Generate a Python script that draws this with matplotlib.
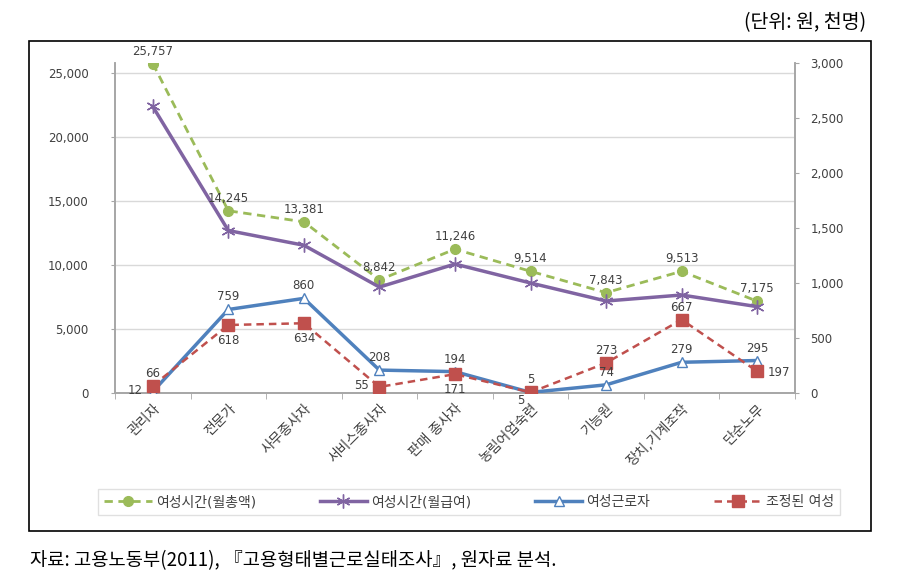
import matplotlib
matplotlib.use("Agg")
import matplotlib.pyplot as plt
from matplotlib.patches import Rectangle
import numpy as np

plt.rcParams['font.family'] = ['DejaVu Sans', 'Noto Sans CJK KR']

# 직업 대분류
categories = ['관리자', '전문가', '사무종사자', '서비스종사자', '판매 종사자',
              '농림어업숙련', '기능원', '장치,기계조작', '단순노무']

# 왼쪽 축 (원)
wage_total = [25757, 14245, 13381, 8842, 11246, 9514, 7843, 9513, 7175]
wage_salary = [22400, 12700, 11550, 8280, 10080, 8600, 7190, 7660, 6750]

# 오른쪽 축 (천명)
female_workers = [12, 759, 860, 208, 194, 5, 74, 279, 295]
adjusted_female = [66, 618, 634, 55, 171, 5, 273, 667, 197]

series_names = ['여성시간(월총액)', '여성시간(월급여)', '여성근로자', '조정된 여성']

TXT = '#404040'
GRID = '#D9D9D9'
AXC = '#A6A6A6'

fig = plt.figure(figsize=(9.09, 5.86), dpi=100)
ax = fig.add_axes([0.1265, 0.3294, 0.748, 0.5631])
ax2 = ax.twinx()

x = np.arange(len(categories))

l1, = ax.plot(x, wage_total, color='#9BBB59', lw=2, ls=(0, (3, 2)),
              marker='o', ms=7, mfc='#9BBB59', mec='#9BBB59', zorder=3)
l2, = ax.plot(x, wage_salary, color='#8064A2', lw=2.5,
              marker=(6, 2, 0), ms=10, mec='#8064A2', mew=1, zorder=3)
l3, = ax2.plot(x, female_workers, color='#4F81BD', lw=2.5,
               marker='^', ms=7, mfc='white', mec='#4F81BD', mew=1, zorder=3)
l4, = ax2.plot(x, adjusted_female, color='#C0504D', lw=1.8, ls=(0, (3, 2)),
               marker='s', ms=8, mfc='#C0504D', mec='#C0504D', zorder=4)

ax.set_xlim(-0.5, len(categories) - 0.5)
ax.set_ylim(0, 25800)
ax2.set_ylim(0, 3000)

ax.set_yticks(np.arange(0, 25001, 5000))
ax.set_yticklabels([f'{v:,}' for v in range(0, 25001, 5000)])
ax2.set_yticks(np.arange(0, 3001, 500))
ax2.set_yticklabels([f'{v:,}' for v in range(0, 3001, 500)])

ax.yaxis.grid(True, color=GRID, lw=1)
ax.set_axisbelow(True)

ax.set_xticks(x)
ax.set_xticklabels(categories, rotation=45, ha='right', rotation_mode='anchor',
                   fontsize=10, color=TXT)
ax.set_xticks(np.arange(-0.5, len(categories) + 0.5, 1), minor=True)
ax.tick_params(axis='x', which='major', length=0, pad=6)
ax.tick_params(axis='x', which='minor', length=4, color=AXC, direction='out')
ax.tick_params(axis='y', length=3, color=AXC, labelsize=8.5, labelcolor=TXT, pad=16)
ax2.tick_params(axis='y', length=3, color=AXC, labelsize=8.5, labelcolor=TXT, pad=8)

for a in (ax, ax2):
    a.spines['top'].set_visible(False)
    for s in ('left', 'right', 'bottom'):
        a.spines[s].set_color(AXC)
        a.spines[s].set_linewidth(1.2)

# 데이터 레이블
offsets = {'above': (0, 9), 'below': (0, -11), 'left': (-13, 1),
           'right': (16, -1), 'below-left': (-7, -6)}

def put_labels(axis, vals, places):
    for i, (v, p) in enumerate(zip(vals, places)):
        dx, dy = offsets[p]
        axis.annotate(f'{v:,}', (x[i], v), textcoords='offset points', xytext=(dx, dy),
                      ha='center', va='center', fontsize=8.5, color=TXT, zorder=6)

put_labels(ax, wage_total, ['above'] * 9)
put_labels(ax2, female_workers, ['left', 'above', 'above', 'above', 'above',
                                 'above', 'above', 'above', 'above'])
put_labels(ax2, adjusted_female, ['above', 'below', 'below', 'left', 'below',
                                  'below-left', 'above', 'above', 'right'])

# 외곽 테두리
fig.patches.append(Rectangle((0.0319, 0.0939), 0.9263, 0.8362, transform=fig.transFigure,
                             fill=False, ec='black', lw=1.2))

leg = fig.legend([l1, l2, l3, l4], series_names, loc='center', ncol=4,
                 bbox_to_anchor=(0.516, 0.1433), fontsize=10, handlelength=3.4,
                 columnspacing=4.6, handletextpad=0.3, frameon=True, fancybox=False,
                 borderpad=0.45, borderaxespad=0)
leg.get_frame().set_edgecolor(GRID)
leg.get_frame().set_linewidth(1)
for t in leg.get_texts():
    t.set_color(TXT)

fig.text(0.953, 0.962, '(단위: 원, 천명)', ha='right', va='center', fontsize=14,
         family=['Noto Sans CJK KR'])
fig.text(0.033, 0.044, '자료: 고용노동부(2011), 『고용형태별근로실태조사』, 원자료 분석.',
         ha='left', va='center', fontsize=13.5, family=['Noto Sans CJK KR'])

fig.savefig('out.png', dpi=100)
